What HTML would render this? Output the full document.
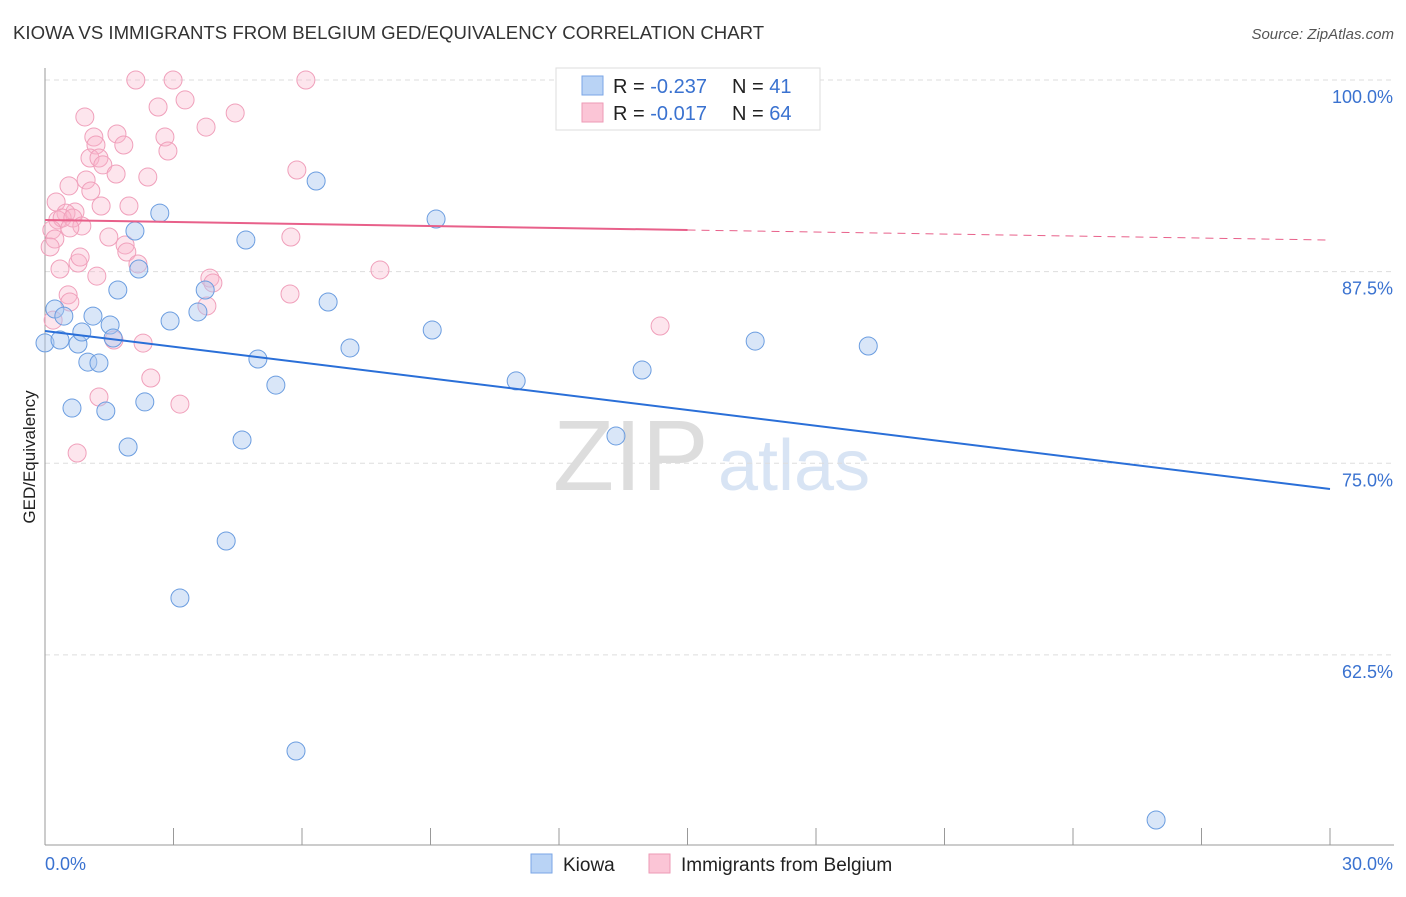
<!DOCTYPE html>
<html><head><meta charset="utf-8"><style>
body{margin:0;background:#fff;font-family:"Liberation Sans",sans-serif;}
svg text{font-family:"Liberation Sans",sans-serif;}
</style></head><body>
<svg id="c" width="1406" height="892">
<text x="13" y="39" font-size="18.6" fill="#333">KIOWA VS IMMIGRANTS FROM BELGIUM GED/EQUIVALENCY CORRELATION CHART</text>
<text x="1394" y="39" font-size="15" fill="#555" text-anchor="end" font-style="italic">Source: ZipAtlas.com</text>
<text x="35" y="457" font-size="17" fill="#222" text-anchor="middle" transform="rotate(-90 35 457)">GED/Equivalency</text>
<text x="553" y="490" font-size="100" fill="#ddd" font-family="Liberation Serif">ZIP</text>
<text x="718" y="490" font-size="72" fill="#d8e4f4">atlas</text>
<g id="grid"></g><g id="pts"></g><g id="lines"></g>
<g>
<rect x="556" y="68" width="264" height="62" fill="#fff" stroke="#ddd"/>
<rect x="582" y="76" width="21" height="19" fill="#b9d3f5" stroke="#7aa6e6"/>
<rect x="582" y="103" width="21" height="19" fill="#fbc5d6" stroke="#ee9ab6"/>
<text x="613" y="93" font-size="20" fill="#222">R = <tspan fill="#3a72d0">-0.237</tspan></text>
<text x="732" y="93" font-size="20" fill="#222">N = <tspan fill="#3a72d0"> 41</tspan></text>
<text x="613" y="120" font-size="20" fill="#222">R = <tspan fill="#3a72d0">-0.017</tspan></text>
<text x="732" y="120" font-size="20" fill="#222">N = <tspan fill="#3a72d0">64</tspan></text>
</g>
<g>
<rect x="531" y="854" width="21" height="19" fill="#b9d3f5" stroke="#7aa6e6"/>
<text x="563" y="871" font-size="19" fill="#222">Kiowa</text>
<rect x="649" y="854" width="21" height="19" fill="#fbc5d6" stroke="#ee9ab6"/>
<text x="681" y="871" font-size="19" fill="#222">Immigrants from Belgium</text>
</g>
</svg>
<script>
const yTicks=[100,87.5,75,62.5];
const yTickLabels=["100.0%","87.5%","75.0%","62.5%"];
const xTickCount=10;
const xTickLabels=["0.0%","30.0%"];
const blueX=[0,0.23,0.35,0.44,0.63,0.77,0.86,1.0,1.12,1.26,1.42,1.52,1.59,1.7,1.94,2.1,2.19,2.33,2.68,2.92,3.15,3.57,3.74,4.23,4.6,4.69,4.97,5.39,5.86,6.33,6.61,7.12,9.04,9.13,11.0,13.33,13.94,16.23,16.58,19.22,25.94];
const blueY=[82.85,85.06,83.04,84.6,78.6,82.78,83.56,81.6,84.6,81.54,78.41,84.02,83.17,86.3,76.06,90.15,87.67,79.0,91.32,84.28,66.21,84.87,86.3,69.93,76.52,89.56,81.8,80.1,56.23,93.41,85.52,82.52,83.69,90.93,80.37,76.78,81.08,100,82.97,82.65,51.73];
const pinkX=[2.12,2.99,6.09,0.93,2.64,3.27,4.44,3.76,1.14,1.68,1.19,1.84,2.8,2.87,1.05,1.26,1.35,0.96,1.66,2.4,5.88,0.56,1.07,0.26,1.31,1.96,0.7,0.49,0.3,0.4,0.65,0.86,0.58,0.16,0.23,0.12,1.49,1.87,1.91,5.74,0.35,0.77,0.82,1.21,2.17,3.85,3.92,7.82,0.54,0.58,3.78,5.72,0.19,1.61,2.29,14.36,2.47,1.26,3.15,0.75];
const pinkY=[100,100,100,97.59,98.24,98.7,97.85,96.93,96.28,96.48,95.76,95.76,96.28,95.37,94.91,94.91,94.46,93.48,93.87,93.67,94.13,93.09,92.76,92.04,91.78,91.78,91.39,91.32,90.87,91.0,91.0,90.48,90.35,90.22,89.63,89.11,89.76,89.24,88.78,89.76,87.67,88.06,88.45,87.21,88.0,87.08,86.76,87.61,85.98,85.52,85.26,86.04,84.34,83.04,82.84,83.95,80.56,79.32,78.86,75.67];
const blueTrend=[83.63,73.32];
const pinkTrend=[90.87,89.56];
const X=v=>45+v/30*1285, Y=v=>80+(100-v)*15.33;
const ns="http://www.w3.org/2000/svg";
function mk(t,a,p){const e=document.createElementNS(ns,t);for(const k in a)e.setAttribute(k,a[k]);p.appendChild(e);return e;}
const g=document.getElementById('grid');
yTicks.forEach((t,i)=>{
 const l=mk('line',{x1:45,x2:1394,y1:Y(t),y2:Y(t),stroke:'#ddd','stroke-dasharray':'5,4'},g);
 
 
 const tx=mk('text',{x:1393,y:Y(t)+23,'font-size':18,fill:'#3a72d0','text-anchor':'end'},g);
 tx.textContent=yTickLabels[i];
 
 
});
const ax=mk('line',{x1:45,x2:45,y1:68,y2:845,stroke:'#999'},g);


const bx=mk('line',{x1:45,x2:1394,y1:845,y2:845,stroke:'#999'},g);


for(let i=0;i<=xTickCount;i++){const v=30*i/xTickCount;
 const t=mk('line',{x1:X(v),x2:X(v),y1:828,y2:845,stroke:'#999'},g);
 
 }
const l0=mk('text',{x:45,y:870,'font-size':18,fill:'#3a72d0'},g);l0.textContent=xTickLabels[0];


const l1=mk('text',{x:1393,y:870,'font-size':18,fill:'#3a72d0','text-anchor':'end'},g);l1.textContent=xTickLabels[1];


const p=document.getElementById('pts');
pinkX.forEach((x,i)=>{const c=mk('circle',{cx:X(x),cy:Y(pinkY[i]),r:9,fill:'rgba(248,180,202,0.35)',stroke:'#f0a0bb','stroke-width':1},p);
 
 });
blueX.forEach((x,i)=>{const c=mk('circle',{cx:X(x),cy:Y(blueY[i]),r:9,fill:'rgba(170,200,240,0.45)',stroke:'#6b9de0','stroke-width':1},p);
 
 });
const L=document.getElementById('lines');
const bt=mk('line',{x1:X(0),y1:Y(blueTrend[0]),x2:X(30),y2:Y(blueTrend[1]),stroke:'#2a6fd8','stroke-width':2},L);


const pm=pinkTrend[0]+(pinkTrend[1]-pinkTrend[0])*15/30;
const pt=mk('line',{x1:X(0),y1:Y(pinkTrend[0]),x2:X(15),y2:Y(pm),stroke:'#e8608a','stroke-width':2},L);


const pd=mk('line',{x1:X(15),y1:Y(pm),x2:X(30),y2:Y(pinkTrend[1]),stroke:'#e8608a','stroke-width':1,'stroke-dasharray':'8,6'},L);


</script>
</body></html>
